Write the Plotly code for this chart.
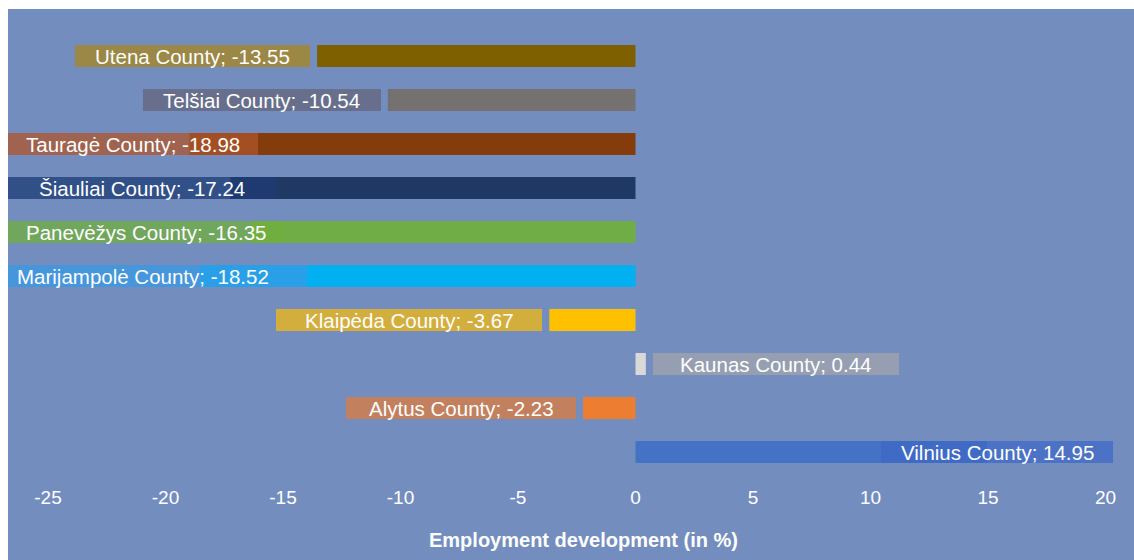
import plotly.graph_objects as go

# ---------------- data ----------------
counties = ["Utena County", "Telšiai County", "Tauragė County", "Šiauliai County",
            "Panevėžys County", "Marijampolė County", "Klaipėda County",
            "Kaunas County", "Alytus County", "Vilnius County"]
values = [-13.55, -10.54, -18.98, -17.24, -16.35, -18.52, -3.67, 0.44, -2.23, 14.95]
x_ticks = [-25, -20, -15, -10, -5, 0, 5, 10, 15, 20]
axis_title = "Employment development (in %)"

# ---------------- style ----------------
BG = "#738DBE"
bar_colors = ["#7F6000", "#767171", "#843C0C", "#203864", "#70AD47",
              "#00B0F0", "#FFC000", "#D9D9D9", "#ED7D31", "#4472C4"]
label_fills = ["rgba(168,133,30,0.75)", "rgba(100,102,123,0.75)", "rgba(175,86,43,0.75)",
               "rgba(28,60,117,0.75)", "rgba(112,175,60,0.75)", "rgba(55,153,230,0.75)",
               "rgba(244,186,17,0.75)", "rgba(162,164,174,0.75)", "rgba(222,124,63,0.75)",
               "rgba(62,106,197,0.75)"]
# data-label callout box widths (px) as drawn in the original
label_box_w = [235, 238, 250, 268, 275, 299, 266, 246, 230, 232]
label_text_shift = [0, 0, 0, 0, 0, -15, 0, 0, 0, 0]

FONT = "Liberation Sans, Arial, sans-serif"
LABEL_FS = 20.5
TICK_FS = 19

# page geometry (pixels)
FIG_W, FIG_H = 1134, 560
PANEL_L, PANEL_T = 8, 9                              # blue chart panel origin
PLOT_L, PLOT_R, PLOT_T, PLOT_B = 8, 1113, 34, 474
ZERO_PX, PX_PER_UNIT = 635.5, 23.5
xmin = -(ZERO_PX - PLOT_L) / PX_PER_UNIT
xmax = (PLOT_R - ZERO_PX) / PX_PER_UNIT
W = PLOT_R - PLOT_L
H = PLOT_B - PLOT_T

GAP = 7
BOX_H = 22

fig = go.Figure()
fig.add_trace(go.Bar(
    y=counties, x=values, orientation="h",
    marker=dict(color=bar_colors, line=dict(width=0)),
    hoverinfo="skip", showlegend=False,
))

annotations = []
for name, v, fill, bw, ts in zip(counties, values, label_fills, label_box_w, label_text_shift):
    txt = f"{name}; {v:.2f}"
    end_px = ZERO_PX + v * PX_PER_UNIT
    box = dict(y=name, yref="y", text=" ", showarrow=False, bgcolor=fill,
               width=bw, height=BOX_H, borderpad=0, borderwidth=0,
               font=dict(family=FONT, size=LABEL_FS, color="white"))
    lab = dict(y=name, yref="y", text=txt, showarrow=False, xanchor="center",
               font=dict(family=FONT, size=LABEL_FS, color="white"))
    if v < 0:
        if end_px - GAP - bw < PLOT_L:
            box.update(x=0, xref="paper", xanchor="left")
            lab.update(x=0, xref="paper", xshift=bw / 2 + ts)
        else:
            box.update(x=v, xref="x", xanchor="right", xshift=-GAP)
            lab.update(x=v, xref="x", xshift=-GAP - bw / 2 + ts)
    else:
        if end_px + GAP + bw > PLOT_R:
            box.update(x=1, xref="paper", xanchor="right")
            lab.update(x=1, xref="paper", xshift=-bw / 2 + ts)
        else:
            box.update(x=v, xref="x", xanchor="left", xshift=GAP)
            lab.update(x=v, xref="x", xshift=GAP + bw / 2 + ts)
    annotations.append(box)
    annotations.append(lab)

annotations.append(dict(
    text=f"<b>{axis_title}</b>", showarrow=False,
    xref="paper", yref="paper", x=(583 - PLOT_L) / W, y=-(540 - PLOT_B) / H,
    xanchor="center", yanchor="middle",
    font=dict(family=FONT, size=20, color="white")))

panel = dict(type="rect", xref="paper", yref="paper", layer="below",
             x0=(PANEL_L - PLOT_L) / W, x1=(FIG_W + 5 - PLOT_L) / W,
             y0=-(FIG_H + 5 - PLOT_B) / H, y1=(PLOT_B - PANEL_T) / H,
             fillcolor=BG, line=dict(width=0))

fig.update_layout(
    width=FIG_W, height=FIG_H,
    margin=dict(l=PLOT_L, r=FIG_W - PLOT_R, t=PLOT_T, b=FIG_H - PLOT_B, pad=0),
    paper_bgcolor="white", plot_bgcolor=BG,
    bargap=0.5,
    shapes=[panel],
    annotations=annotations,
    xaxis=dict(range=[xmin, xmax], tickvals=x_ticks, ticktext=[str(t) for t in x_ticks],
               showgrid=False, zeroline=False, showline=False, ticks="",
               tickfont=dict(family=FONT, size=TICK_FS, color="white"),
               ticklabelstandoff=10, fixedrange=True),
    yaxis=dict(autorange="reversed", showticklabels=False, showgrid=False,
               zeroline=False, showline=False, ticks="", fixedrange=True),
)

fig.write_html("out.html",
               config={"displayModeBar": False, "staticPlot": True},
               post_script="document.body.style.margin='0';"
                           "document.documentElement.style.overflow='hidden';")
